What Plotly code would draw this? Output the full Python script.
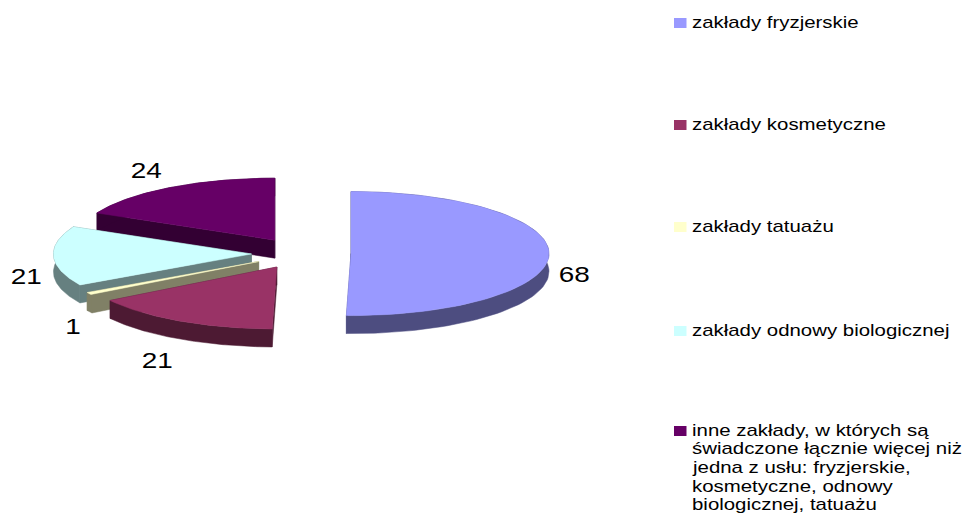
import numpy as np
import plotly.graph_objects as go

categories = [["zakłady fryzjerskie"], ["zakłady kosmetyczne"], ["zakłady tatuażu"],
              ["zakłady odnowy biologicznej"],
              ["inne zakłady, w których są", "świadczone łącznie więcej niż",
               "jedna z usłu: fryzjerskie,", "kosmetyczne, odnowy", "biologicznej, tatuażu"]]
values = [68, 21, 1, 21, 24]
top_colors = ["#9999FF", "#993366", "#FFFFCC", "#CCFFFF", "#660066"]
side_colors = ["#4D4D80", "#4D1A33", "#808066", "#668080", "#330033"]
label_pos = [(574, 274), (157, 360), (73, 326), (26, 276), (146, 170)]
legend_y = [23, 125, 227, 331, 431]

CX, CY, RX, RY, EX, EY, DEPTH = 301.2, 253.4, 198, 62, 49.8, 15.6, 18
LEG_X = 680
LINE_STEP = 18.7

fig = go.Figure()


def poly(xs, ys, color):
    fig.add_trace(go.Scatter(x=xs, y=ys, mode="lines", fill="toself", fillcolor=color,
                             line=dict(color=color, width=0.5), hoverinfo="skip", showlegend=False))


total = sum(values)
edges = np.concatenate([[0], np.cumsum(values)]) / total * 2 * np.pi
order = [4, 0, 3, 2, 1]
for i in order:
    a0, a1 = edges[i], edges[i + 1]
    mid = (a0 + a1) / 2
    ax, ay = CX + EX * np.sin(mid), CY - EY * np.cos(mid)
    t = np.linspace(a0, a1, 90)
    ox, oy = ax + RX * np.sin(t), ay - RY * np.cos(t)
    for k in (0, -1):
        poly([ax, ox[k], ox[k], ax, ax],
             [ay, oy[k], oy[k] + DEPTH, ay + DEPTH, ay], side_colors[i])
    poly(np.r_[ox, ox[::-1]], np.r_[oy, (oy + DEPTH)[::-1]], side_colors[i])
    poly(np.r_[ax, ox, ax], np.r_[ay, oy, ay], top_colors[i])

annotations = []
shapes = []
for v, (x, y) in zip(values, label_pos):
    annotations.append(dict(x=x, y=y, text=str(v), showarrow=False, xanchor="center", yanchor="middle",
                            font=dict(family="Liberation Sans", size=22, color="#000000")))
for lines, y, c in zip(categories, legend_y, top_colors):
    shapes.append(dict(type="rect", x0=LEG_X - 6, x1=LEG_X + 6.5, y0=y - 5, y1=y + 5,
                       fillcolor=c, line=dict(width=0)))
    for j, line in enumerate(lines):
        annotations.append(dict(x=LEG_X + 9.5, y=y - 1 + j * LINE_STEP, text=line, showarrow=False,
                                xanchor="left", yanchor="middle", align="left",
                                font=dict(family="Liberation Sans", size=17, color="#000000")))

fig.update_layout(width=971, height=514, margin=dict(l=0, r=0, t=0, b=0),
                  paper_bgcolor="white", plot_bgcolor="white", annotations=annotations, shapes=shapes,
                  xaxis=dict(range=[0, 971], visible=False, fixedrange=True),
                  yaxis=dict(range=[514, 0], visible=False, fixedrange=True))

# The reference is horizontally stretched: widen the real text glyphs to match.
post = """
document.body.style.margin = '0';
document.querySelectorAll('.annotation-text').forEach(function (el) {
  var size = parseFloat(el.style.fontSize);
  var k = size > 20 ? 1.27 : 1.2;
  el.setAttribute('textLength', el.getComputedTextLength() * k);
  el.setAttribute('lengthAdjust', 'spacingAndGlyphs');
});
"""
fig.write_html("out.html", config={"displayModeBar": False}, post_script=post)
